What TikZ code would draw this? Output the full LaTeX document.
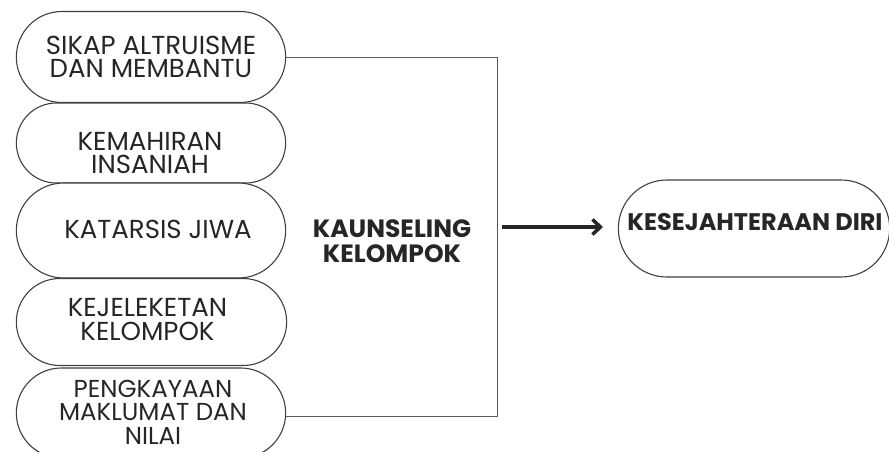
\documentclass[tikz,border=0pt]{standalone}
\usepackage{fontspec}
\setmainfont{Poppins}
\usetikzlibrary{shapes.misc,arrows.meta}
\begin{document}
\begin{tikzpicture}[x=1pt,y=-1pt,
  pill/.style={draw=black!75,line width=1.1pt,rounded rectangle,fill=white},
  lbl/.style={align=center,font=\fontsize{26}{23.5}\selectfont,text=black!85,inner sep=0pt},
  blbl/.style={align=center,font=\fontsize{24}{23}\selectfont\bfseries,text=black!85,inner sep=0pt},
  conn/.style={draw=black!65,line width=1pt}]
\useasboundingbox (0,0) rectangle (889,452);
\node[pill,minimum width=276pt,minimum height=91pt] (p1) at (151,57) {};
\node[pill,minimum width=276pt,minimum height=80pt] (p2) at (151,143) {};
\node[pill,minimum width=276pt,minimum height=95pt] (p3) at (151,230.5) {};
\node[pill,minimum width=277pt,minimum height=87pt] (p4) at (151.5,322) {};
\node[pill,minimum width=276pt,minimum height=90pt] (p5) at (151,413) {};
\node[lbl] (t1) at (151,57) {SIKAP ALTRUISME\\DAN MEMBANTU};
\node[lbl] (t2) at (150,153) {KEMAHIRAN\\INSANIAH};
\node[lbl] (t3) at (158,229.5) {KATARSIS JIWA};
\node[lbl] (t4) at (147.5,319.5) {KEJELEKETAN\\KELOMPOK};
\node[lbl,font=\fontsize{24.5}{23.5}\selectfont] (t5) at (153,412) {PENGKAYAAN\\MAKLUMAT DAN\\NILAI};
\node[blbl,font=\fontsize{25}{25}\selectfont\bfseries] (k) at (392,241) {KAUNSELING\\KELOMPOK};
\coordinate (c1) at (497,58);
\coordinate (c2) at (497,416);
\draw[conn] (p1.east |- c1) -- (c1) -- (c2) -- (p5.east |- c2);
\node[pill,minimum width=278pt,minimum height=97pt] (r) at (754,228.5) {};
\node[blbl] (rt) at (755,222) {KESEJAHTERAAN DIRI};
\coordinate (a1) at (502,227);
\coordinate (a2) at (603,227);
\draw[line width=3.5pt,black!85,-{Straight Barb[length=8pt,width=15pt,line width=3.5pt]}] (a1) -- (a2);
\end{tikzpicture}
\end{document}
